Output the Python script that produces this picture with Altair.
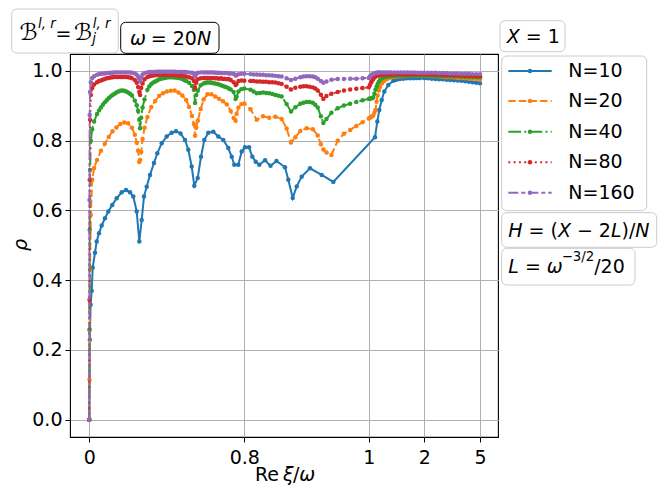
import altair as alt
import pandas as pd

FONT = "DejaVu Sans"

# ---------------- data ----------------
X_DENSE = [
    0, 0.001, 0.002, 0.004, 0.008, 0.015, 0.025, 0.04, 0.06, 0.08,
    0.10, 0.12, 0.14, 0.16, 0.18, 0.20, 0.22, 0.235, 0.245, 0.252,
    0.258, 0.262, 0.268, 0.275, 0.285, 0.30, 0.32, 0.34, 0.36, 0.38,
    0.40, 0.42, 0.44, 0.46, 0.48, 0.50, 0.515, 0.53, 0.54, 0.546,
    0.552, 0.56, 0.575, 0.59, 0.61, 0.63, 0.65, 0.67, 0.69, 0.71,
    0.73, 0.745, 0.755, 0.76, 0.77, 0.785, 0.80,
    0.81, 0.82, 0.83, 0.84, 0.85, 0.86, 0.868, 0.875, 0.882, 0.89,
    0.90, 0.91, 0.918, 0.923, 0.927, 0.932, 0.94, 0.95, 0.96, 0.97,
    0.98, 0.99, 1.0,
    1.02, 1.04, 1.06, 1.08, 1.10, 1.12, 1.14, 1.16, 1.18, 1.20,
    1.24, 1.28, 1.32, 1.36, 1.40, 1.46, 1.52, 1.58, 1.64, 1.70,
    1.76, 1.82, 1.88, 1.94, 2.0,
    2.2, 2.4, 2.6, 2.8, 3.0, 3.2, 3.4, 3.6, 3.8, 4.0, 4.2, 4.4, 4.6, 4.8, 5.0,
]

# extra read-off positions for the densest series (N=40, 80, 160)
X_DENSE_MID = [
    0.05, 0.07, 0.09, 0.11, 0.13, 0.15, 0.17, 0.19, 0.21,
    0.31, 0.33, 0.35, 0.37, 0.39, 0.41, 0.43, 0.45, 0.47, 0.49,
    0.60, 0.62, 0.64, 0.66, 0.68, 0.70, 0.72,
    0.815, 0.825, 0.835, 0.845, 0.855, 0.895, 0.905, 0.914,
]

Y_N20 = [
    0, 0.115, 0.258, 0.430, 0.587, 0.688, 0.722, 0.745, 0.771, 0.791,
    0.811, 0.827, 0.838, 0.848, 0.852, 0.850, 0.837, 0.817, 0.794, 0.771,
    0.739, 0.745, 0.768, 0.805, 0.837, 0.868, 0.897, 0.914, 0.928, 0.936,
    0.941, 0.943, 0.944, 0.938, 0.930, 0.917, 0.897, 0.871, 0.848, 0.814,
    0.837, 0.857, 0.891, 0.918, 0.933, 0.933, 0.927, 0.920, 0.913, 0.904,
    0.885, 0.865, 0.857, 0.877, 0.895, 0.905, 0.907,
    0.890, 0.860, 0.870, 0.866, 0.869, 0.862, 0.835, 0.795, 0.810, 0.828,
    0.836, 0.833, 0.815, 0.790, 0.775, 0.766, 0.759, 0.800, 0.820, 0.831,
    0.842, 0.853, 0.864,
    0.866, 0.868, 0.870, 0.872, 0.880, 0.888, 0.912, 0.930, 0.944, 0.953,
    0.965, 0.972, 0.976, 0.979, 0.981, 0.983, 0.984, 0.985, 0.985, 0.986,
    0.986, 0.986, 0.986, 0.986, 0.986,
    0.986, 0.985, 0.985, 0.984, 0.983, 0.982, 0.982, 0.981, 0.980, 0.980,
    0.979, 0.978, 0.978, 0.977, 0.976,
]

Y_N40 = [
    0, 0.258, 0.544, 0.716, 0.800, 0.832, 0.855, 0.877, 0.895, 0.910,
    0.922, 0.931, 0.938, 0.943, 0.943, 0.938, 0.930, 0.915, 0.902, 0.885,
    0.860, 0.836, 0.866, 0.895, 0.918, 0.946, 0.963, 0.970, 0.976, 0.979,
    0.981, 0.982, 0.981, 0.980, 0.977, 0.971, 0.966, 0.957, 0.946, 0.908,
    0.931, 0.943, 0.959, 0.964, 0.967, 0.966, 0.964, 0.961, 0.957, 0.953,
    0.947, 0.940, 0.920, 0.926, 0.941, 0.948, 0.950,
    0.946, 0.936, 0.938, 0.936, 0.931, 0.927, 0.905, 0.884, 0.896, 0.906,
    0.911, 0.909, 0.895, 0.870, 0.851, 0.862, 0.880, 0.893, 0.901, 0.906,
    0.911, 0.916, 0.920,
    0.921, 0.922, 0.922, 0.924, 0.935, 0.946, 0.955, 0.963, 0.969, 0.974,
    0.979, 0.982, 0.983, 0.984, 0.985, 0.985, 0.986, 0.986, 0.986, 0.986,
    0.986, 0.986, 0.986, 0.986, 0.986,
    0.986, 0.986, 0.985, 0.985, 0.985, 0.985, 0.984, 0.984, 0.984, 0.983,
    0.983, 0.983, 0.982, 0.982, 0.982,
]
Y_N40_MID = [
    0.887, 0.903, 0.916, 0.927, 0.935, 0.941, 0.944, 0.941, 0.935,
    0.956, 0.967, 0.973, 0.978, 0.980, 0.982, 0.982, 0.981, 0.979, 0.974,
    0.966, 0.967, 0.965, 0.963, 0.959, 0.955, 0.950,
    0.941, 0.937, 0.937, 0.934, 0.929, 0.909, 0.911, 0.903,
]

Y_N80 = [
    0, 0.344, 0.688, 0.860, 0.931, 0.951, 0.961, 0.968, 0.973, 0.977,
    0.980, 0.982, 0.983, 0.983, 0.983, 0.982, 0.979, 0.974, 0.966, 0.954,
    0.940, 0.931, 0.951, 0.964, 0.976, 0.983, 0.986, 0.988, 0.989, 0.989,
    0.989, 0.989, 0.988, 0.987, 0.986, 0.984, 0.982, 0.979, 0.971, 0.951,
    0.966, 0.976, 0.979, 0.980, 0.980, 0.979, 0.979, 0.978, 0.977, 0.976,
    0.974, 0.968, 0.960, 0.963, 0.971, 0.973, 0.972,
    0.971, 0.970, 0.969, 0.968, 0.967, 0.963, 0.955, 0.947, 0.952, 0.955,
    0.956, 0.953, 0.944, 0.932, 0.920, 0.928, 0.935, 0.940, 0.944, 0.947,
    0.949, 0.951, 0.953,
    0.960, 0.966, 0.972, 0.977, 0.981, 0.984, 0.986, 0.987, 0.988, 0.988,
    0.989, 0.990, 0.990, 0.990, 0.990, 0.990, 0.990, 0.990, 0.990, 0.990,
    0.990, 0.990, 0.990, 0.990, 0.990,
    0.990, 0.989, 0.989, 0.989, 0.988, 0.988, 0.988, 0.987, 0.987, 0.987,
    0.986, 0.986, 0.986, 0.985, 0.985,
]
Y_N80_MID = [
    0.971, 0.975, 0.979, 0.981, 0.983, 0.983, 0.983, 0.983, 0.981,
    0.985, 0.987, 0.989, 0.989, 0.989, 0.989, 0.989, 0.988, 0.987, 0.985,
    0.980, 0.980, 0.980, 0.979, 0.979, 0.978, 0.977,
    0.971, 0.970, 0.969, 0.968, 0.965, 0.956, 0.955, 0.950,
]

Y_N160 = [
    0, 0.630, 0.874, 0.940, 0.968, 0.980, 0.985, 0.989, 0.992, 0.993,
    0.994, 0.995, 0.996, 0.996, 0.996, 0.996, 0.995, 0.993, 0.989, 0.984,
    0.976, 0.970, 0.982, 0.990, 0.994, 0.996, 0.997, 0.997, 0.998, 0.998,
    0.998, 0.998, 0.998, 0.997, 0.997, 0.997, 0.996, 0.995, 0.992, 0.984,
    0.991, 0.995, 0.996, 0.996, 0.996, 0.996, 0.995, 0.995, 0.994, 0.994,
    0.993, 0.992, 0.987, 0.988, 0.991, 0.992, 0.992,
    0.991, 0.990, 0.989, 0.988, 0.986, 0.984, 0.979, 0.974, 0.978, 0.982,
    0.985, 0.984, 0.978, 0.971, 0.966, 0.970, 0.975, 0.977, 0.977, 0.978,
    0.978, 0.979, 0.980,
    0.984, 0.988, 0.990, 0.992, 0.993, 0.994, 0.995, 0.995, 0.996, 0.996,
    0.996, 0.996, 0.996, 0.996, 0.996, 0.996, 0.996, 0.996, 0.996, 0.996,
    0.996, 0.996, 0.995, 0.995, 0.995,
    0.995, 0.995, 0.995, 0.994, 0.994, 0.994, 0.993, 0.993, 0.993, 0.992,
    0.992, 0.992, 0.991, 0.991, 0.991,
]
Y_N160_MID = [
    0.991, 0.993, 0.994, 0.995, 0.996, 0.996, 0.996, 0.996, 0.996,
    0.997, 0.997, 0.998, 0.998, 0.998, 0.998, 0.998, 0.997, 0.997, 0.997,
    0.996, 0.996, 0.996, 0.995, 0.994, 0.994, 0.993,
    0.990, 0.989, 0.988, 0.987, 0.985, 0.984, 0.985, 0.982,
]

X_N10 = [
    0, 0.0026, 0.0067, 0.0124, 0.0175, 0.0294, 0.0382, 0.0501, 0.0640, 0.0810,
    0.0981, 0.1187, 0.1414, 0.1672, 0.1894, 0.2101, 0.2271, 0.2446, 0.2581, 0.2705,
    0.2823, 0.2963, 0.3133, 0.3339, 0.3510, 0.3737, 0.3995, 0.4253, 0.4475, 0.4707,
    0.4939, 0.5110, 0.5285, 0.5419, 0.5595, 0.5765, 0.5935, 0.6142, 0.6400, 0.6658,
    0.6916, 0.7174, 0.7350, 0.7484, 0.7690, 0.7866, 0.8011, 0.8076, 0.8129, 0.8183,
    0.8241, 0.8333, 0.8421, 0.8517, 0.8654, 0.8707, 0.8778, 0.8842, 0.8922, 0.9055,
    0.9243, 0.9430, 1.1117, 1.1532, 1.1892, 1.2324, 1.2793, 1.3514, 1.4414, 1.47,
    1.50, 1.56, 1.62, 1.68, 1.74, 1.80, 1.86, 1.92, 2.0, 2.2,
    2.4, 2.6, 2.8, 3.0, 3.2, 3.4, 3.6, 3.8, 4.0, 4.2,
    4.4, 4.6, 4.8, 5.0,
]
Y_N10 = [
    0, 0.229, 0.330, 0.370, 0.436, 0.479, 0.511, 0.535, 0.557, 0.578,
    0.597, 0.616, 0.635, 0.652, 0.659, 0.652, 0.640, 0.597, 0.511, 0.573,
    0.640, 0.668, 0.702, 0.736, 0.764, 0.793, 0.812, 0.823, 0.827, 0.821,
    0.802, 0.774, 0.726, 0.671, 0.693, 0.754, 0.802, 0.823, 0.826, 0.812,
    0.802, 0.779, 0.754, 0.731, 0.731, 0.769, 0.781, 0.781, 0.754, 0.740,
    0.731, 0.744, 0.728, 0.742, 0.724, 0.688, 0.636, 0.669, 0.697, 0.721,
    0.702, 0.682, 0.810, 0.855, 0.888, 0.917, 0.941, 0.960, 0.972, 0.974,
    0.975, 0.977, 0.978, 0.979, 0.979, 0.979, 0.9795, 0.9795, 0.9795, 0.979,
    0.978, 0.977, 0.9765, 0.976, 0.975, 0.974, 0.9735, 0.9725, 0.972, 0.9705,
    0.969, 0.968, 0.966, 0.965,
]

SERIES = ["N=10", "N=20", "N=40", "N=80", "N=160"]
COLORS = ["#1f77b4", "#ff7f0e", "#2ca02c", "#d62728", "#9467bd"]
DASHES = [None, [7.4, 3.2], [12.8, 3.2, 2, 3.2], [2, 3.3], [10, 3, 4, 3]]
X_TICKS = [0, 0.8, 1, 2, 5]
Y_TICKS = [0.0, 0.2, 0.4, 0.6, 0.8, 1.0]

# ---------------- scales / axes ----------------
xscale = alt.Scale(domain=[-0.0996, 0, 0.8, 1, 2, 5, 5.985],
                   range=[0, 19.3, 174.3, 298.8, 354.3, 410, 428.3],
                   nice=False, zero=False)
yscale = alt.Scale(domain=[-0.0496, 1.0487], nice=False, zero=False)

common_axis = dict(title=None, grid=True, gridColor="#b0b0b0", gridWidth=1,
                   domain=False, ticks=True, tickColor="black", tickSize=5,
                   tickWidth=1, labelFontSize=19, labelFont=FONT,
                   labelColor="black", labelFlush=False, labelOverlap=False)
xaxis = alt.Axis(values=X_TICKS, format="~g", labelPadding=6, **common_axis)
yaxis = alt.Axis(values=Y_TICKS, format=".1f", labelPadding=3, **common_axis)

xenc = alt.X("xi:Q", scale=xscale, axis=xaxis)
yenc = alt.Y("rho:Q", scale=yscale, axis=yaxis)

layers = []
series_x = [X_N10, X_DENSE, X_DENSE + X_DENSE_MID, X_DENSE + X_DENSE_MID,
            X_DENSE + X_DENSE_MID]
series_y = [Y_N10, Y_N20, Y_N40 + Y_N40_MID, Y_N80 + Y_N80_MID,
            Y_N160 + Y_N160_MID]
for name, xv, yv, col, dash in zip(SERIES, series_x, series_y, COLORS, DASHES):
    df = pd.DataFrame({"xi": xv, "rho": yv}).sort_values("xi")
    kw = dict(color=col, strokeWidth=2,
              point=alt.OverlayMarkDef(filled=True, size=20, color=col, opacity=1))
    if dash:
        kw["strokeDash"] = dash
    layers.append(alt.Chart(df).mark_line(**kw).encode(x=xenc, y=yenc))

# ---------------- annotation boxes (pixel layout) ----------------
boxes = pd.DataFrame([
    dict(x1=-58.3, x2=48.3, y1=-45, y2=-1, s="#cccccc"),
    dict(x1=50.7, x2=149, y1=-31.7, y2=-0.7, s="black"),
    dict(x1=430, x2=495, y1=-33.3, y2=-2.3, s="#cccccc"),
    dict(x1=431.7, x2=576.7, y1=2, y2=156.7, s="#cccccc"),
    dict(x1=431.7, x2=586.7, y1=158.7, y2=193.3, s="#cccccc"),
    dict(x1=431.7, x2=565, y1=194.3, y2=231, s="#cccccc"),
])
layers.append(
    alt.Chart(boxes).mark_rect(cornerRadius=5, fill="white", fillOpacity=0.85,
                               strokeWidth=1)
    .encode(x=alt.X("x1:Q", scale=None, axis=None), x2="x2:Q",
            y=alt.Y("y1:Q", scale=None, axis=None), y2="y2:Q",
            stroke=alt.Stroke("s:N", scale=None))
)

# ---------------- custom legend ----------------
LEG_Y = [17, 47, 77.7, 108.3, 138.7]
for name, col, dash, ly in zip(SERIES, COLORS, DASHES, LEG_Y):
    ldf = pd.DataFrame({"n": [name]})
    rkw = dict(color=col, strokeWidth=2)
    if dash:
        rkw["strokeDash"] = dash
    layers.append(alt.Chart(ldf).mark_rule(**rkw).encode(
        x=alt.value(438.3), x2=alt.value(481.7), y=alt.value(ly)))
    layers.append(alt.Chart(ldf).mark_point(filled=True, size=20, color=col, opacity=1)
                  .encode(x=alt.value(460), y=alt.value(ly)))
    layers.append(alt.Chart(ldf).mark_text(align="left", baseline="middle", fontSize=19,
                                           font=FONT, color="black")
                  .encode(x=alt.value(498.3), y=alt.value(ly), text="n:N"))

# ---------------- math-like text pieces ----------------
W = {' ': 0.318, '=': 0.838, '−': 0.838, '(': 0.390, ')': 0.390, '/': 0.337,
     '0': 0.636, '1': 0.636, '2': 0.636, '3': 0.636, 'X': 0.685, 'H': 0.752,
     'L': 0.557, 'N': 0.748, 'ω': 0.782, 'l': 0.278, 'r': 0.411,
     ',': 0.318, 'j': 0.278, 'R': 0.695, 'e': 0.615, 'ξ': 0.52}
rows = []


def add(pieces, x0, y0):
    x = x0
    for p in pieces:
        if isinstance(p, (int, float)):
            x += p
            continue
        text, size, ital, rise, adv = p
        rows.append(dict(px=x, py=y0 - rise, t=text, fs=size, it=ital))
        if adv:
            x += sum(W.get(c, 0.6) for c in text) * size


S = 6.0
# B^{l,r} = B_j^{l,r}: pieces placed where the reference shows them
rows += [
    dict(px=-50.5, py=-14.5, t="ℬ", fs=23, it=False),
    dict(px=-32.0, py=-25.7, t="l, r", fs=13.3, it=True),
    dict(px=-14.4, py=-14.5, t="=", fs=19, it=False),
    dict(px=4.0, py=-14.5, t="ℬ", fs=23, it=False),
    dict(px=22.3, py=-11.0, t="j", fs=13.3, it=True),
    dict(px=22.8, py=-25.7, t="l, r", fs=13.3, it=True),
]
add([("ω", 19, True, 0, True), S, ("=", 19, False, 0, True), S,
     ("20", 19, False, 0, True), ("N", 19, True, 0, True)], 60, -9)
add([("X", 19, True, 0, True), S, ("=", 19, False, 0, True), S,
     ("1", 19, False, 0, True)], 436.7, -11.3)
add([("H", 19, True, 0, True), S, ("=", 19, False, 0, True), S,
     ("(", 19, False, 0, True), ("X", 19, True, 0, True), S,
     ("−", 19, False, 0, True), S, ("2", 19, False, 0, True),
     ("L", 19, True, 0, True), (")/", 19, False, 0, True),
     ("N", 19, True, 0, True)], 438.3, 183.3)
add([("L", 19, True, 0, True), S, ("=", 19, False, 0, True), S,
     ("ω", 19, True, 0, True), ("−3/2", 13.3, False, 12, True),
     ("/20", 19, False, 0, True)], 438.3, 219.3)
add([("Re", 19, False, 0, True), 3.2, ("ξ", 19, True, 0, True),
     ("/", 19, False, 0, True), ("ω", 19, True, 0, True)], 185, 427)

tdf = pd.DataFrame(rows)
for ital in (False, True):
    sub = tdf[tdf["it"] == ital][["px", "py", "t", "fs"]]
    layers.append(
        alt.Chart(sub).mark_text(align="left", baseline="alphabetic", font=FONT,
                                 color="black",
                                 fontStyle="italic" if ital else "normal")
        .encode(x=alt.X("px:Q", scale=None, axis=None),
                y=alt.Y("py:Q", scale=None, axis=None),
                text="t:N", size=alt.Size("fs:Q", scale=None))
    )

# y-axis title
layers.append(
    alt.Chart(pd.DataFrame({"t": ["ρ"]})).mark_text(
        angle=270, align="center", baseline="middle", fontSize=19,
        fontStyle="italic", font=FONT, color="black")
    .encode(x=alt.value(-49.5), y=alt.value(191), text="t:N")
)

chart = (
    alt.layer(*layers)
    .properties(width=428, height=383,
                autosize=alt.AutoSizeParams(type="none"),
                padding={"left": 62, "top": 46, "right": 160, "bottom": 50})
    .configure(font=FONT)
    .configure_view(stroke="black", strokeWidth=1.1)
)
chart.save("out.html", embed_options={"renderer": "svg", "actions": False})
